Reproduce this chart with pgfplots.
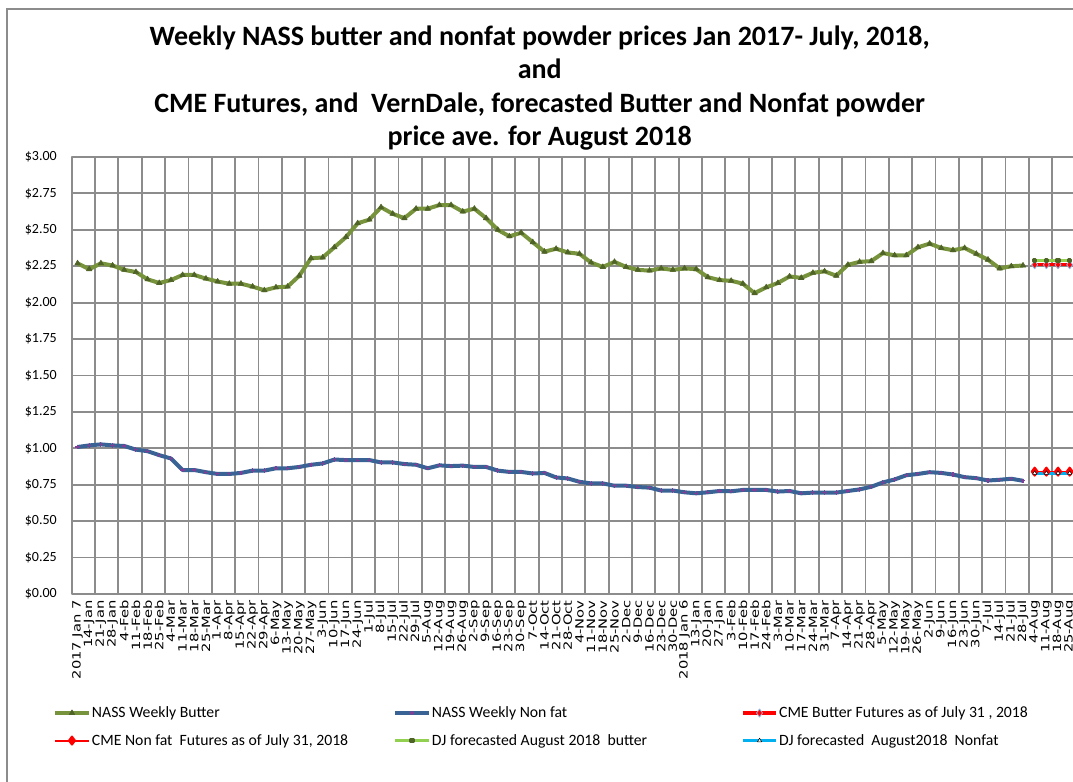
\documentclass[border=0pt]{standalone}
\usepackage{pgfplots}
\pgfplotsset{compat=1.18}
\usepackage{pgfplotstable}
\usepackage{fontspec}
\setmainfont{Carlito}
\newfontfamily\xfont{DejaVu Sans}

\definecolor{butterline}{HTML}{77933C}
\definecolor{buttermark}{HTML}{4F6228}
\definecolor{nonfatline}{HTML}{3A6395}
\definecolor{nonfatmark}{HTML}{7F3F98}
\definecolor{cmeblue}{HTML}{8EB4E3}
\definecolor{djgreen}{HTML}{92D050}
\definecolor{djblue}{HTML}{00B0F0}
\definecolor{gridgray}{HTML}{8C8C8C}

% weekly NASS butter, $/lb (index 0 = 2017 Jan 7)
\pgfplotstableread{
x y
0 2.27
1 2.23
2 2.27
3 2.255
4 2.225
5 2.21
6 2.16
7 2.135
8 2.155
9 2.19
10 2.19
11 2.165
12 2.145
13 2.13
14 2.13
15 2.11
16 2.085
17 2.105
18 2.11
19 2.185
20 2.305
21 2.31
22 2.38
23 2.45
24 2.545
25 2.57
26 2.655
27 2.61
28 2.58
29 2.645
30 2.645
31 2.67
32 2.67
33 2.625
34 2.645
35 2.58
36 2.50
37 2.455
38 2.48
39 2.415
40 2.35
41 2.37
42 2.345
43 2.335
44 2.275
45 2.245
46 2.28
47 2.245
48 2.225
49 2.22
50 2.235
51 2.225
52 2.235
53 2.23
54 2.175
55 2.155
56 2.15
57 2.13
58 2.065
59 2.105
60 2.135
61 2.18
62 2.17
63 2.205
64 2.215
65 2.185
66 2.26
67 2.28
68 2.285
69 2.34
70 2.325
71 2.325
72 2.38
73 2.405
74 2.375
75 2.36
76 2.375
77 2.335
78 2.295
79 2.235
80 2.25
81 2.255
}\butter

% weekly NASS nonfat dry milk, $/lb
\pgfplotstableread{
x y
0 1.009
1 1.02
2 1.027
3 1.02
4 1.016
5 0.991
6 0.98
7 0.953
8 0.93
9 0.851
10 0.851
11 0.836
12 0.824
13 0.824
14 0.831
15 0.847
16 0.847
17 0.863
18 0.863
19 0.872
20 0.887
21 0.896
22 0.923
23 0.919
24 0.919
25 0.919
26 0.903
27 0.903
28 0.892
29 0.887
30 0.863
31 0.883
32 0.878
33 0.881
34 0.872
35 0.872
36 0.847
37 0.838
38 0.838
39 0.827
40 0.831
41 0.80
42 0.793
43 0.77
44 0.759
45 0.759
46 0.743
47 0.743
48 0.734
49 0.73
50 0.71
51 0.71
52 0.698
53 0.691
54 0.698
55 0.707
56 0.705
57 0.714
58 0.714
59 0.714
60 0.703
61 0.707
62 0.691
63 0.696
64 0.696
65 0.696
66 0.707
67 0.718
68 0.736
69 0.766
70 0.786
71 0.815
72 0.824
73 0.836
74 0.831
75 0.82
76 0.802
77 0.795
78 0.779
79 0.784
80 0.791
81 0.777
}\nonfat

% fixed-width legend texts so the three columns sit where Excel put them
\newcommand{\legA}[1]{\makebox[226pt][l]{#1}}
\newcommand{\legB}[1]{\makebox[232pt][l]{#1}}
\newcommand{\legC}[1]{\makebox[200pt][l]{#1}}

\begin{document}
\begin{tikzpicture}
\begin{axis}[
  scale only axis, width=752.9pt, height=327.75pt,
  at={(0pt,0pt)}, anchor=south west,
  xmin=-0.5, xmax=85.5, ymin=0, ymax=3,
  xtick={0,...,85},
  xticklabels={2017 Jan 7,14-Jan,21-Jan,28-Jan,4-Feb,11-Feb,18-Feb,25-Feb,4-Mar,11-Mar,18-Mar,25-Mar,1-Apr,8-Apr,15-Apr,22-Apr,29-Apr,6-May,13-May,20-May,27-May,3-Jun,10-Jun,17-Jun,24-Jun,1-Jul,8-Jul,15-Jul,22-Jul,29-Jul,5-Aug,12-Aug,19-Aug,26-Aug,2-Sep,9-Sep,16-Sep,23-Sep,30-Sep,7-Oct,14-Oct,21-Oct,28-Oct,4-Nov,11-Nov,18-Nov,25-Nov,2-Dec,9-Dec,16-Dec,23-Dec,30-Dec,2018 Jan 6,13-Jan,20-Jan,27-Jan,3-Feb,10-Feb,17-Feb,24-Feb,3-Mar,10-Mar,17-Mar,24-Mar,31-Mar,7-Apr,14-Apr,21-Apr,28-Apr,5-May,12-May,19-May,26-May,2-Jun,9-Jun,16-Jun,23-Jun,30-Jun,7-Jul,14-Jul,21-Jul,28-Jul,4-Aug,11-Aug,18-Aug,25-Aug},
  xticklabel style={yshift=-4.5pt, rotate=90, xscale=1.3, anchor=east, inner sep=0pt, font=\xfont\fontsize{8.5}{8.5}\selectfont},
  minor xtick={-0.5,1.5,...,85.5},
  xminorgrids,
  minor grid style={draw=gridgray, line width=1.4pt},
  ytick={0,0.25,0.5,0.75,1,1.25,1.5,1.75,2,2.25,2.5,2.75,3},
  yticklabel={\$\pgfmathprintnumber[fixed,fixed zerofill,precision=2]{\tick}},
  yticklabel style={anchor=east, inner sep=0pt, xshift=-11pt, font=\fontsize{10.5}{10.5}\selectfont},
  /pgf/number format/assume math mode=true,
  ymajorgrids,
  major tick length=0pt, minor tick length=0pt,
  major grid style={draw=gridgray, line width=1.4pt},
  axis line style={draw=gridgray, line width=1.4pt},
  legend columns=3,
  legend image code/.code={\draw[mark repeat=2,mark phase=2,#1] plot coordinates {(0pt,0pt) (12.5pt,0pt) (25pt,0pt)};},
  legend style={at={(-0.0186,-0.257)}, anchor=north west, draw=none, fill=none, inner sep=0pt,
    font=\fontsize{11.8}{11.8}\selectfont,
    nodes={inner sep=0pt},
    column sep=0pt,
    /tikz/every odd column/.append style={column sep=1pt},
    row sep=11pt},
  line join=round,
]
\addplot[butterline, line width=3pt, mark=triangle*, mark size=2.4pt,
  mark options={fill=buttermark, draw=buttermark, line width=0.4pt}] table[x=x,y=y] {\butter};
\addlegendentry{\legA{NASS Weekly Butter}}
\addplot[nonfatline, line width=3pt, mark=+, mark size=1.6pt,
  mark options={draw=nonfatmark, line width=0.8pt}] table[x=x,y=y] {\nonfat};
\addlegendentry{\legB{NASS Weekly Non fat}}
\addplot[red, line width=2.4pt, mark=diamond*, mark size=3pt,
  mark options={fill=red, draw=cmeblue, line width=0.6pt}] coordinates {(82,2.26) (83,2.26) (84,2.26) (85,2.26)};
\addlegendentry{\legC{CME Butter Futures as of July 31 , 2018}}
\addplot[red, line width=1.5pt, mark=diamond*, mark size=3pt,
  mark options={fill=red, draw=red}] coordinates {(82,0.84) (83,0.84) (84,0.84) (85,0.84)};
\addlegendentry{\legA{CME Non fat\ \ Futures as of July 31, 2018}}
\addplot[djgreen, line width=2.4pt, mark=square*, mark size=0.8pt,
  mark options={fill=buttermark, draw=buttermark}] coordinates {(82,2.29) (83,2.29) (84,2.29) (85,2.29)};
\addlegendentry{\legB{DJ forecasted August 2018\ \ butter}}
\addplot[djblue, line width=2.2pt, mark=triangle*, mark size=1.8pt,
  mark options={fill=white, draw=black, line width=0.4pt}] coordinates {(82,0.83) (83,0.83) (84,0.83) (85,0.83)};
\addlegendentry{\legC{DJ forecasted\ \ August2018\ \ Nonfat}}
\end{axis}
\node[align=center, font=\bfseries\fontsize{21}{25}\selectfont] at (351pt,379.5pt)
  {Weekly NASS butter and nonfat powder prices Jan 2017- July, 2018,\\and\\CME Futures, and\ \ VernDale, forecasted Butter and Nonfat powder\\price ave. for August 2018};
\draw[gridgray, line width=1.5pt] (-48.5pt,-160pt) rectangle (770pt,439pt);
\pgfresetboundingbox
\path[use as bounding box] (-53.8pt,-141pt) rectangle (751pt,445.5pt);
\end{tikzpicture}
\end{document}
